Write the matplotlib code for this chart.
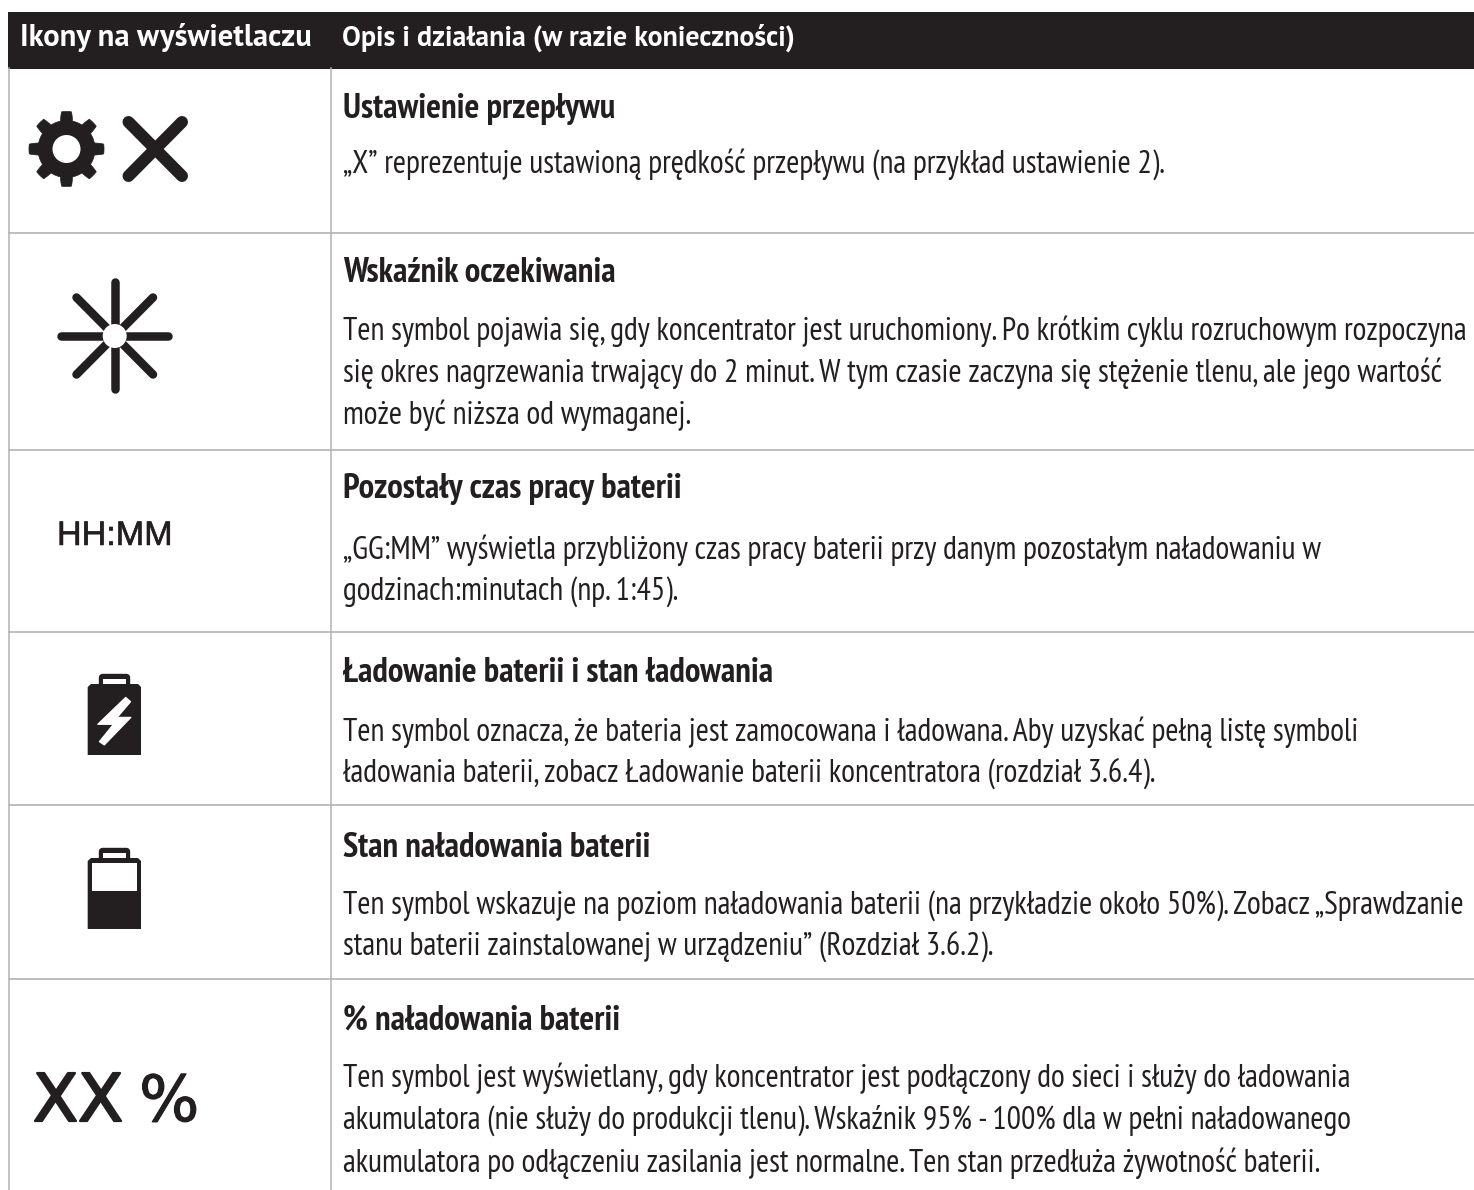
import numpy as np
import matplotlib
matplotlib.use("Agg")
import matplotlib.pyplot as plt
import matplotlib.patheffects as pe
from matplotlib.patches import Polygon, Rectangle, Circle, FancyBboxPatch
from matplotlib.lines import Line2D

# ---------- content ----------
header_labels = ["Ikony na wyświetlaczu", "Opis i działania (w razie konieczności)"]
row_titles = [
    "Ustawienie przepływu",
    "Wskaźnik oczekiwania",
    "Pozostały czas pracy baterii",
    "Ładowanie baterii i stan ładowania",
    "Stan naładowania baterii",
    "% naładowania baterii",
]
row_bodies = [
    ["„X” reprezentuje ustawioną prędkość przepływu (na przykład ustawienie 2)."],
    ["Ten symbol pojawia się, gdy koncentrator jest uruchomiony. Po krótkim cyklu rozruchowym rozpoczyna",
     "się okres nagrzewania trwający do 2 minut. W tym czasie zaczyna się stężenie tlenu, ale jego wartość",
     "może być niższa od wymaganej."],
    ["„GG:MM” wyświetla przybliżony czas pracy baterii przy danym pozostałym naładowaniu w",
     "godzinach:minutach (np. 1:45)."],
    ["Ten symbol oznacza, że bateria jest zamocowana i ładowana. Aby uzyskać pełną listę symboli",
     "ładowania baterii, zobacz Ładowanie baterii koncentratora (rozdział 3.6.4)."],
    ["Ten symbol wskazuje na poziom naładowania baterii (na przykładzie około 50%). Zobacz „Sprawdzanie",
     "stanu baterii zainstalowanej w urządzeniu” (Rozdział 3.6.2)."],
    ["Ten symbol jest wyświetlany, gdy koncentrator jest podłączony do sieci i służy do ładowania",
     "akumulatora (nie służy do produkcji tlenu). Wskaźnik 95% - 100% dla w pełni naładowanego",
     "akumulatora po odłączeniu zasilania jest normalne. Ten stan przedłuża żywotność baterii."],
]
hhmm_label = "HH:MM"
xx_label = "XX"
percent_label = "%"

# ---------- layout (pixels) ----------
W, H = 1474, 1190
row_lines = [232.5, 449.5, 632, 805, 979]
title_base = [118, 282, 498, 682, 857, 1029]
body_base = [[173], [340, 382, 424], [559, 600], [741, 783], [914, 956], [1087, 1129, 1172]]
DARK = "#231f20"
GRID = "#b3b3b3"
BODY = ["PT Sans Narrow", "Liberation Sans", "DejaVu Sans"]
HEAD = ["PT Sans", "Liberation Sans", "DejaVu Sans"]

fig = plt.figure(figsize=(W / 100, H / 100), dpi=100)
ax = fig.add_axes([0, 0, 1, 1])
ax.set_xlim(0, W)
ax.set_ylim(H, 0)
ax.axis("off")
renderer = fig.canvas.get_renderer()


def fitted(text, width, **kw):
    t = ax.text(0, 0, text, fontsize=20, **kw)
    w = t.get_window_extent(renderer).width
    t.remove()
    return 20 * width / w


# ---------- table frame ----------
ax.add_patch(Rectangle((8, 11.5), W - 8, 57, fc=DARK, ec="none"))
ax.add_line(Line2D([9, 9], [68, H], color=GRID, lw=1.1))
ax.add_line(Line2D([331.5, 331.5], [68, H], color=GRID, lw=1.1))
for y in row_lines:
    ax.add_line(Line2D([9, W], [y, y], color=GRID, lw=1.2))

# ---------- texts ----------
for x, s, width in zip([20, 342], header_labels, [290, 453]):
    ax.text(x, 46, s, family=HEAD, weight="bold", color="white", va="baseline",
            fontsize=fitted(s, width, family=HEAD, weight="bold"))

title_fs = fitted(row_titles[1], 272, family=BODY, weight="bold")
body_fs = fitted(row_bodies[1][0], 1127, family=BODY)
for title, by, lines, ly in zip(row_titles, title_base, row_bodies, body_base):
    ax.text(343, by, title, family=BODY, weight="bold", fontsize=title_fs, color=DARK, va="baseline")
    for s, y in zip(lines, ly):
        ax.text(343, y, s, family=BODY, fontsize=body_fs, color=DARK, va="baseline")

# ---------- icons ----------
PX = 0.72  # points per pixel at 100 dpi


def stroke(x0, y0, x1, y1, width):
    ax.add_line(Line2D([x0, x1], [y0, y1], color=DARK, lw=width * PX,
                       solid_capstyle="round"))


# gear
cx, cy = 66.5, 149.0
ang = np.linspace(0, 2 * np.pi, 721)
tooth = np.clip(1.6 * np.cos(8 * (ang - np.pi / 2)) + 0.2, 0, 1)
rad = 28.5 + 9.0 * tooth
ax.add_patch(Polygon(np.c_[cx + rad * np.cos(ang), cy + rad * np.sin(ang)], closed=True,
                     fc=DARK, ec=DARK, lw=0.5, joinstyle="round"))
ax.add_patch(Circle((cx, cy), 14, fc="white", ec="none"))
# X setting
stroke(128.5, 122, 182, 176, 12)
stroke(182, 122, 128.5, 176, 12)

# standby star
sx, sy = 114.7, 336
stroke(sx, 282, sx, 389, 8.5)
stroke(61, sy, 168, sy, 8.5)
stroke(76.5, 297.5, 153, 374.5, 8.5)
stroke(153, 297.5, 76.5, 374.5, 8.5)
ax.add_patch(Circle((sx, sy), 12, fc="white", ec="none", zorder=3))


def battery(top):
    """Cap starts at top; the body spans top+10 to top+81."""
    ax.add_patch(FancyBboxPatch((99.5, top + 0.5), 30, 14, boxstyle="round,pad=0,rounding_size=3.5",
                                fc=DARK, ec=DARK, lw=1))
    ax.add_patch(Rectangle((103.3, top + 5), 22.4, 5, fc="white", ec="none"))
    ax.add_patch(Polygon([(87.7, top + 81), (87.7, top + 13), (91, top + 10), (138, top + 10),
                          (141, top + 13), (141, top + 81)], closed=True, fc=DARK, ec="none"))


# battery charging with bolt
battery(674)
bolt = [(197, 232), (212, 245), (172, 292), (213, 292), (133, 375), (118, 365), (160, 313), (113, 313)]
ax.add_patch(Polygon([(x / 3 + 60, y / 3 + 620) for x, y in bolt], closed=True, fc="white", ec="white",
                     lw=0.8, joinstyle="round"))
# battery level
battery(848)
ax.add_patch(Rectangle((92.3, 862.7), 44.7, 28.6, fc="white", ec="none"))

# text icons
LIB = ["Liberation Sans", "DejaVu Sans"]
ax.text(57, 545, hhmm_label, family=LIB, color=DARK, va="baseline",
        fontsize=fitted(hhmm_label, 115, family=LIB),
        path_effects=[pe.withStroke(linewidth=0.4, foreground=DARK)])
heavy = [pe.withStroke(linewidth=1.6, foreground=DARK)]
ax.text(33, 1121, xx_label, family="DejaVu Sans", color=DARK, va="baseline",
        fontsize=fitted(xx_label, 90, family="DejaVu Sans"), path_effects=heavy)
ax.text(139, 1121, percent_label, family="DejaVu Sans", color=DARK, va="baseline",
        fontsize=fitted(percent_label, 60, family="DejaVu Sans"),
        path_effects=[pe.withStroke(linewidth=0.8, foreground=DARK)])

fig.savefig("out.png", dpi=100)
